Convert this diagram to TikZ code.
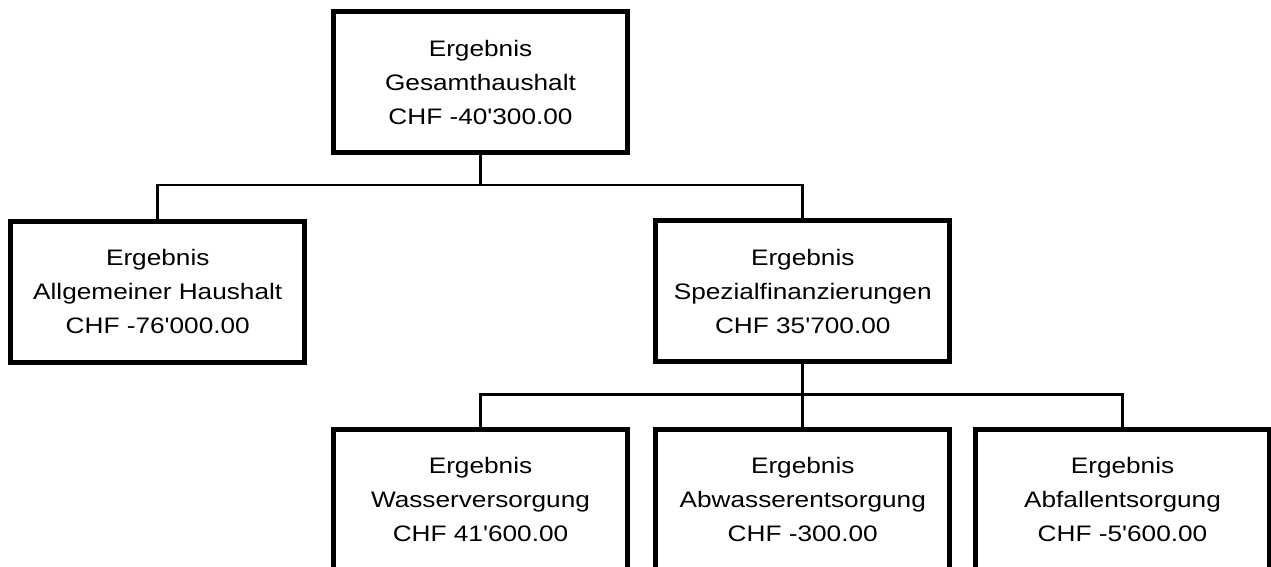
\documentclass[tikz,border=0pt]{standalone}
\usepackage{fontspec}
\setmainfont{Liberation Sans}[FakeStretch=1.17, Ligatures=TeXOff]
\usepackage{tikz}
\usetikzlibrary{positioning}
\tikzset{ergebnis/.style ={draw, line width=3.75pt, rectangle, minimum width=220.5pt, minimum height=105.75pt, align=center, inner sep=0pt, font=\fontsize{16.8pt}{25.5pt}\selectfont}}
\tikzset{verbindung/.style ={draw, line width=2pt}}

\begin{document}
\begin{tikzpicture}[x=0.75pt, y=-0.75pt]
\useasboundingbox (0,0) rectangle (1271,567);
\clip (0,0) rectangle (1271,567);
\node [ergebnis] (ges)  at (480.5,82)    {Ergebnis\\Gesamthaushalt\\CHF -40'300.00};
\node [ergebnis] (allg) at (157.75,291.5) {Ergebnis\\Allgemeiner Haushalt\\CHF -76'000.00};
\node [ergebnis] (spez) at (802.75,291)  {Ergebnis\\Spezialfinanzierungen\\CHF 35'700.00};
\node [ergebnis] (wv)   at (480.5,499.5) {Ergebnis\\Wasserversorgung\\CHF 41'600.00};
\node [ergebnis] (aw)   at (802.75,499.5) {Ergebnis\\Abwasserentsorgung\\CHF -300.00};
\node [ergebnis] (af)   at (1122.5,499.5) {Ergebnis\\Abfallentsorgung\\CHF -5'600.00};
\draw [verbindung] (ges.south) -- ++(0,30) -| (allg.north);
\draw [verbindung] (ges.south) -- ++(0,30) -| (spez.north);
\draw [verbindung] (spez.south) -- ++(0,30.5) -| (wv.north);
\draw [verbindung] (spez.south) -- (aw.north);
\draw [verbindung] (spez.south) -- ++(0,30.5) -| (af.north);
\end{tikzpicture}
\end{document}
